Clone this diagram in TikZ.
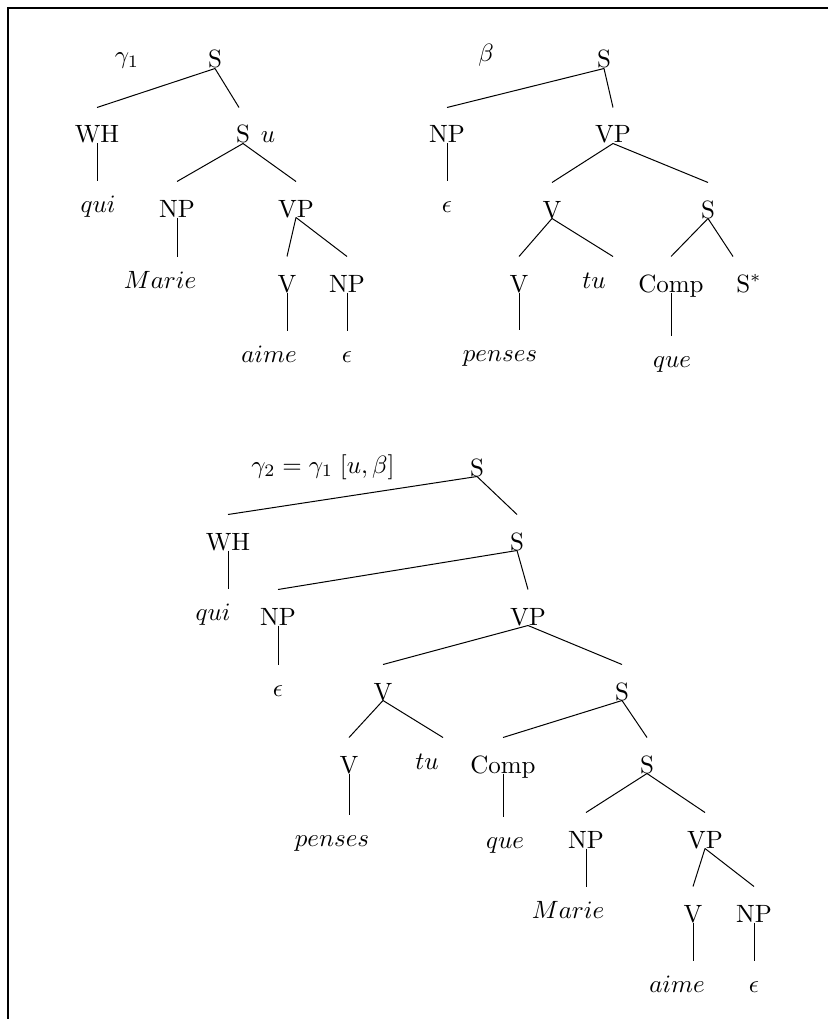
\documentclass[tikz,border=0pt]{standalone}
\begin{document}
\begin{tikzpicture}[x=0.4pt,y=-0.4pt,
  cat/.style={inner sep=0pt,anchor=base,text height=14pt,text depth=0pt},
  lex/.style={inner sep=0pt,anchor=base,text height=12.4pt,text depth=0pt},
  lab/.style={inner sep=0pt,anchor=base},
  edge/.style={line width=0.4pt},
  frame/.style={line width=1pt}]
\useasboundingbox (0,0) rectangle (828,1019);
\draw[frame] (828,7.8) -- (7.8,7.8) -- (7.8,1019);

% ---------------- tree gamma_1
\node[lab] (g1) at (127,64) {$\gamma_1$};
\node[cat] (S1) at (215,68) {S};
\node[cat] (WH1) at (97,143) {WH};
\node[cat] (Su) at (243,143) {S};
\node[lab] (u1) at (268,143) {$u$};
\node[lex] (qui1) at (98,213) {$qui$};
\node[cat] (NP1) at (177,217) {NP};
\node[cat] (VP1) at (296,217) {VP};
\node[lex] (Marie1) at (160,288) {$Marie$};
\node[cat] (V1) at (287,292) {V};
\node[cat] (NPe1) at (347,292) {NP};
\node[lex] (aime1) at (269,362) {$aime$};
\node[lex] (eps1) at (347,362) {$\epsilon$};

\draw[edge] (S1.south) -- (WH1.north);
\draw[edge] (S1.south) -- ([xshift=-1.6pt]Su.north);
\draw[edge] (WH1.south) -- (WH1.south |- qui1.north);
\draw[edge] (Su.south) -- (NP1.north);
\draw[edge] (Su.south) -- (VP1.north);
\draw[edge] (NP1.south) -- (NP1.south |- Marie1.north);
\draw[edge] (VP1.south) -- (V1.north);
\draw[edge] (VP1.south) -- (NPe1.north);
\draw[edge] (V1.south) -- (V1.south |- aime1.north);
\draw[edge] (NPe1.south) -- (NPe1.south |- eps1.north);

% ---------------- tree beta
\node[lab] (bl) at (486,62) {$\beta$};
\node[cat] (S2) at (604,68) {S};
\node[cat] (NP2) at (447,143) {NP};
\node[cat] (VP2) at (613,143) {VP};
\node[lex] (eps2) at (447,213) {$\epsilon$};
\node[cat] (V2) at (552,218) {V};
\node[cat] (Sb) at (708,218) {S};
\node[cat] (Vb) at (519,292) {V};
\node[lex] (tu2) at (594,288) {$tu$};
\node[cat] (Comp2) at (671,292) {Comp};
\node[cat] (Sstar) at (749,292) {S$^*$};
\node[lex] (penses2) at (500,361) {$penses$};
\node[lex] (que2) at (672,367) {$que$};

\draw[edge] (S2.south) -- (NP2.north);
\draw[edge] (S2.south) -- (VP2.north);
\draw[edge] (NP2.south) -- (NP2.south |- eps2.north);
\draw[edge] (VP2.south) -- (V2.north);
\draw[edge] (VP2.south) -- (Sb.north);
\draw[edge] (V2.south) -- (Vb.north);
\draw[edge] (V2.south) -- ([xshift=7.6pt]tu2.north);
\draw[edge] (Sb.south) -- (Comp2.north);
\draw[edge] (Sb.south) -- ([xshift=-6.4pt]Sstar.north);
\draw[edge] (Vb.south) -- (Vb.south |- penses2.north);
\draw[edge] (Comp2.south) -- (Comp2.south |- que2.north);

% ---------------- tree gamma_2
\node[lab] (g2) at (323,473) {$\gamma_2 = \gamma_1\;[u,\beta]$};
\node[cat] (S3) at (477,476) {S};
\node[cat] (WH3) at (228,550) {WH};
\node[cat] (S4) at (517,550) {S};
\node[lex] (qui3) at (213,620) {$qui$};
\node[cat] (NP3) at (278,625) {NP};
\node[cat] (VP3) at (528,625) {VP};
\node[lex] (eps3) at (278,696) {$\epsilon$};
\node[cat] (V3) at (383,700) {V};
\node[cat] (S5) at (622,700) {S};
\node[cat] (V4) at (349,773) {V};
\node[lex] (tu3) at (427,769) {$tu$};
\node[cat] (Comp3) at (503,773) {Comp};
\node[cat] (S6) at (647,773) {S};
\node[lex] (penses3) at (332,846) {$penses$};
\node[lex] (que3) at (505,848) {$que$};
\node[cat] (NP4) at (586,848) {NP};
\node[cat] (VP4) at (705,848) {VP};
\node[lex] (Marie3) at (568,918) {$Marie$};
\node[cat] (V5) at (693,922) {V};
\node[cat] (NP5) at (754,922) {NP};
\node[lex] (aime3) at (677,992) {$aime$};
\node[lex] (eps4) at (754,992) {$\epsilon$};

\draw[edge] (S3.south) -- (WH3.north);
\draw[edge] (S3.south) -- (S4.north);
\draw[edge] (WH3.south) -- (WH3.south |- qui3.north);
\draw[edge] (S4.south) -- (NP3.north);
\draw[edge] (S4.south) -- (VP3.north);
\draw[edge] (NP3.south) -- (NP3.south |- eps3.north);
\draw[edge] (VP3.south) -- (V3.north);
\draw[edge] (VP3.south) -- (S5.north);
\draw[edge] (V3.south) -- (V4.north);
\draw[edge] (V3.south) -- ([xshift=6.4pt]tu3.north);
\draw[edge] (S5.south) -- (Comp3.north);
\draw[edge] (S5.south) -- (S6.north);
\draw[edge] (V4.south) -- (V4.south |- penses3.north);
\draw[edge] (Comp3.south) -- (Comp3.south |- que3.north);
\draw[edge] (S6.south) -- (NP4.north);
\draw[edge] (S6.south) -- (VP4.north);
\draw[edge] (NP4.south) -- (NP4.south |- Marie3.north);
\draw[edge] (VP4.south) -- (V5.north);
\draw[edge] (VP4.south) -- (NP5.north);
\draw[edge] (V5.south) -- (V5.south |- aime3.north);
\draw[edge] (NP5.south) -- (NP5.south |- eps4.north);
\end{tikzpicture}
\end{document}
